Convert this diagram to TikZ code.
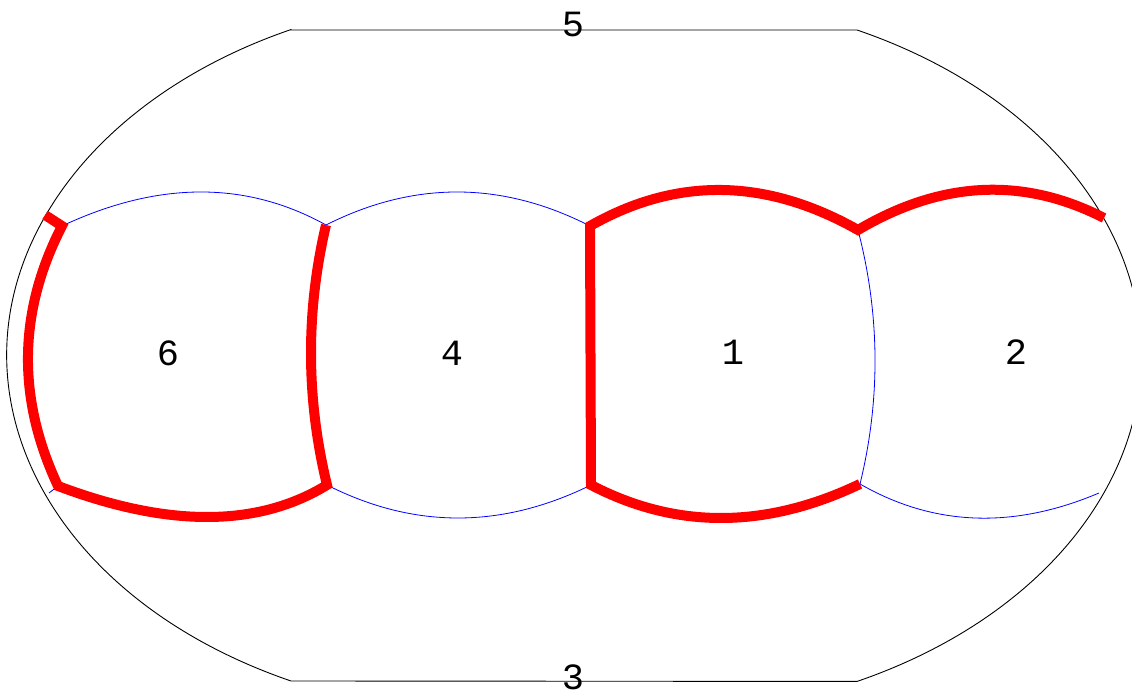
\documentclass[tikz,border=0pt]{standalone}
\usepackage{fontspec}
\setmonofont{Liberation Mono}
\usetikzlibrary{calc}
\begin{document}
\begin{tikzpicture}[x=1pt,y=1pt,
  outer/.style={draw=black,line width=0.9pt},
  inner/.style={draw=blue,line width=0.8pt},
  cut/.style={draw=red,line width=10pt,line cap=butt,line join=miter},
  lbl/.style={font=\ttfamily\fontsize{37}{37}\selectfont,inner sep=0pt},
  qc/.style={to path={.. controls ($1.3333*(#1)-0.3333*(\tikztotarget)$) and ($1.3333*(#1)-0.3333*(\tikztostart)$) .. (\tikztotarget)}}]
\useasboundingbox (0,0) rectangle (1132,693);
\clip (0,0) rectangle (1132,693);
% outer boundary corners
\coordinate (O1) at (291,663);
\coordinate (O2) at (857,663);
\coordinate (O3) at (857,12);
\coordinate (O4) at (291,12);
% vertices
\coordinate (S0) at (45,478);
\coordinate (T0) at (62,467);
\coordinate (T1) at (326,468);
\coordinate (T2) at (590,467);
\coordinate (T3) at (858,463);
\coordinate (T4) at (1104,475);
\coordinate (S1) at (49,200);
\coordinate (B0) at (58,207);
\coordinate (B1) at (327,208);
\coordinate (B2) at (591,208);
\coordinate (B3) at (860,209);
\coordinate (B4) at (1099,200);
% curve midpoints
\coordinate (mE1) at (200,501);
\coordinate (mE2) at (458,501);
\coordinate (mE3) at (722,503);
\coordinate (mE4) at (982,503);
\coordinate (mE5) at (208,176);
\coordinate (mE6) at (458,175);
\coordinate (mE7) at (722,175);
\coordinate (mE8) at (975,175);
\coordinate (mV0) at (28,338);
\coordinate (mV1) at (311,338);
\coordinate (mV3) at (875,336);
% outer boundary
\draw[outer] (O1) -- (O2) arc[start angle=64.8,end angle=-64.8,x radius=495,y radius=360]
  -- (O4) arc[start angle=244.8,end angle=115.2,x radius=495,y radius=360] -- cycle;
% blue edges
\draw[inner] (T0) to[qc=mE1] (T1) to[qc=mE2] (T2);
\draw[inner] (T3) to[qc=mV3] (B3) to[qc=mE8] (B4);
\draw[inner] (B1) to[qc=mE6] (B2);
\draw[inner] (S1) -- (B0);
% red edges
\draw[cut] (S0) -- (T0) to[qc=mV0] (B0) to[qc=mE5] (B1) to[qc=mV1] (T1);
\draw[cut] (B3) to[qc=mE7] (B2) -- (T2) to[qc=mE3] (T3) to[qc=mE4] (T4);
% labels
\node[lbl] (l5) at (573,668) {5};
\node[lbl] (l3) at (573,16) {3};
\node[lbl] (l6) at (168,340) {6};
\node[lbl] (l4) at (452,340) {4};
\node[lbl] (l1) at (733,341) {1};
\node[lbl] (l2) at (1016,341) {2};
\end{tikzpicture}
\end{document}
